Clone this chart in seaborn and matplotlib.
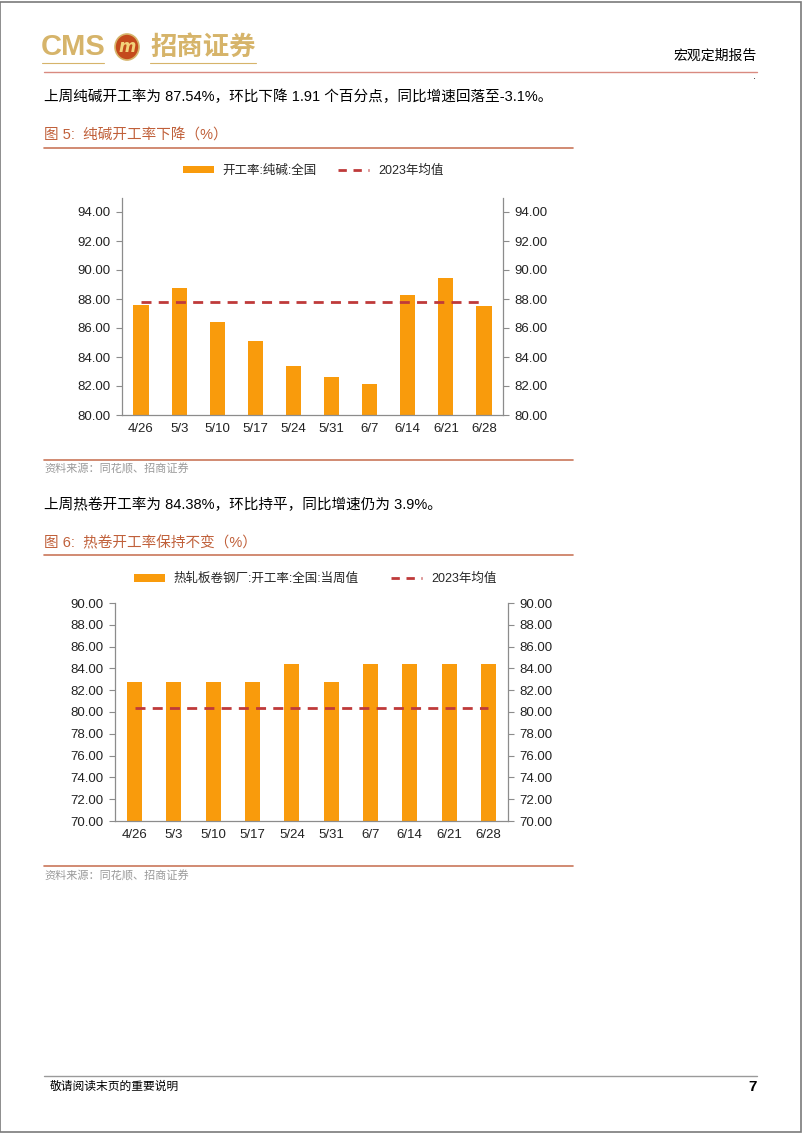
import numpy as np
import pandas as pd
import matplotlib
matplotlib.use("Agg")
import matplotlib.pyplot as plt
import matplotlib.patches as mpatches
from matplotlib.lines import Line2D
import seaborn as sns

# ---------------- data ----------------
dates = ["4/26", "5/3", "5/10", "5/17", "5/24", "5/31", "6/7", "6/14", "6/21", "6/28"]
soda_rate = [87.61, 88.78, 86.42, 85.11, 83.37, 82.59, 82.11, 88.27, 89.46, 87.54]
soda_mean_2023 = 87.79
hrc_rate = [82.77, 82.77, 82.77, 82.77, 84.38, 82.77, 84.38, 84.38, 84.38, 84.38]
hrc_mean_2023 = 80.40

soda_ticks = [80, 82, 84, 86, 88, 90, 92, 94]
hrc_ticks = [70, 72, 74, 76, 78, 80, 82, 84, 86, 88, 90]

soda_label = "开工率:纯碱:全国"
hrc_label = "热轧板卷钢厂:开工率:全国:当周值"
mean_label = "2023年均值"

# ---------------- style ----------------
sns.set_style("white")
FONT = ["Liberation Sans", "Noto Sans CJK SC"]
plt.rcParams["font.family"] = FONT
plt.rcParams["axes.unicode_minus"] = False

W, H = 802, 1133
fig = plt.figure(figsize=(W / 100, H / 100), dpi=100)

BAR = "#f99b0c"
DASH = "#bf3a3a"
AXC = "#8c8c8c"
TITLE_C = "#c0603a"
LINE_C = "#c9775a"
GOLD = "#d6b46a"


def fy(y):
    return 1 - y / H


def fx(x):
    return x / W


def hline(y, x0, x1, color, lw):
    fig.add_artist(Line2D([fx(x0), fx(x1)], [fy(y), fy(y)], color=color, lw=lw,
                          transform=fig.transFigure))


def text(x, y, s, size, color="black", ha="left", weight="normal"):
    fig.text(fx(x), fy(y), s, fontsize=size, color=color, ha=ha, va="center",
             fontweight=weight, family=FONT)


# page border
fig.add_artist(mpatches.Rectangle((0.0005, 0.0005), 0.998, 0.998, fill=False,
                                  edgecolor="#7a7a7a", lw=1.2, transform=fig.transFigure))

# ---------------- header ----------------
fig.text(fx(41), fy(47), "CMS", fontsize=21, color=GOLD, ha="left", va="center",
         family=["Liberation Sans Narrow", "Liberation Sans"], fontweight="bold")
fig.add_artist(mpatches.Ellipse((fx(127), fy(47)), 24 / W, 26 / H, facecolor="#c44a1c",
                                edgecolor=GOLD, lw=1.2, transform=fig.transFigure))
fig.text(fx(127), fy(47), "m", fontsize=12, color="#f2d27a", ha="center", va="center",
         fontweight="bold", style="italic", family=["DejaVu Sans"])
text(150, 47, "招商证券", 19, color=GOLD, weight="bold")
hline(63, 42, 104, GOLD, 0.8)
hline(63, 150, 256, GOLD, 0.8)
text(757, 56, "宏观定期报告", 10, ha="right")
hline(72, 44, 757, "#d98a80", 1.0)
text(756, 79, "·", 7, ha="right")

# ---------------- section 1 ----------------
text(44, 97, "上周纯碱开工率为 87.54%，环比下降 1.91 个百分点，同比增速回落至-3.1%。", 10.5)
text(44, 136, "图 5:  纯碱开工率下降（%）", 10.5, color=TITLE_C)
hline(148, 44, 573, LINE_C, 1.2)
hline(460, 44, 573, LINE_C, 1.2)
text(44, 469, "资料来源：同花顺、招商证券", 8, color="#9a9a9a")

# ---------------- section 2 ----------------
text(44, 505, "上周热卷开工率为 84.38%，环比持平，同比增速仍为 3.9%。", 10.5)
text(44, 543, "图 6:  热卷开工率保持不变（%）", 10.5, color=TITLE_C)
hline(555, 44, 573, LINE_C, 1.2)
hline(866, 44, 573, LINE_C, 1.2)
text(44, 876, "资料来源：同花顺、招商证券", 8, color="#9a9a9a")

# ---------------- footer ----------------
hline(1076, 44, 757, "#9a9a9a", 1.0)
text(50, 1087, "敬请阅读末页的重要说明", 8.5)
text(757, 1087, "7", 11, ha="right", weight="bold")


# ---------------- charts ----------------
def make_chart(rect, values, mean_val, ticks, ylim, width, bar_label, legend_y, legend_x,
               colsp):
    ax = fig.add_axes(rect)
    df = pd.DataFrame({"date": dates, "value": values})
    sns.barplot(data=df, x="date", y="value", color=BAR, saturation=1, width=width,
                ax=ax, edgecolor="none")
    pos = np.arange(len(dates))
    ax.plot(pos, [mean_val] * len(dates), color=DASH, lw=2.0, dashes=(3.6, 2.6))
    ax.set_xlim(-0.5, len(dates) - 0.5)
    ax.set_ylim(*ylim)
    ax.set_yticks(ticks)
    ax.set_yticklabels([f"{t:.2f}" for t in ticks])
    ax.set_xlabel("")
    ax.set_ylabel("")
    ax.set_xticks(pos)
    ax.set_xticklabels(dates)
    ax.set_xticks(np.arange(-0.5, len(dates), 1.0), minor=True)
    ax.tick_params(axis="x", which="major", length=0, pad=6, labelsize=9.5)
    ax.tick_params(axis="x", which="minor", length=4, color=AXC, direction="out", width=0.8)
    ax.tick_params(axis="y", length=4, color=AXC, direction="out", width=0.8,
                   labelsize=9.5, pad=4)
    for s in ["top", "right"]:
        ax.spines[s].set_visible(False)
    for s in ["left", "bottom"]:
        ax.spines[s].set_color(AXC)
        ax.spines[s].set_linewidth(0.9)
    ax.grid(False)
    ax2 = ax.twinx()
    ax2.set_ylim(*ylim)
    ax2.set_yticks(ticks)
    ax2.set_yticklabels([f"{t:.2f}" for t in ticks])
    ax2.tick_params(axis="y", length=4, color=AXC, direction="out", width=0.8,
                    labelsize=9.5, pad=4)
    for s in ["top", "left", "bottom"]:
        ax2.spines[s].set_visible(False)
    ax2.spines["right"].set_color(AXC)
    ax2.spines["right"].set_linewidth(0.9)
    ax2.grid(False)
    for lab in ax.get_yticklabels() + ax.get_xticklabels() + ax2.get_yticklabels():
        lab.set_color("#222222")

    handles = [mpatches.Patch(facecolor=BAR, edgecolor="none", label=bar_label),
               Line2D([0], [0], color=DASH, lw=2.0, dashes=(3.0, 2.4), label=mean_label)]
    fig.legend(handles=handles, loc="center", bbox_to_anchor=(fx(legend_x), fy(legend_y)),
               ncol=2, frameon=False, handlelength=2.5, handleheight=0.55,
               columnspacing=colsp, handletextpad=0.7, prop={"family": FONT, "size": 9})
    return ax


# chart 1
make_chart([fx(122), fy(415), (503 - 122) / W, (415 - 197.5) / H],
           soda_rate, soda_mean_2023, soda_ticks, (80, 95), 0.4, soda_label, 171, 313, 1.7)

# chart 2
make_chart([fx(115), fy(821), (508 - 115) / W, (821 - 603) / H],
           hrc_rate, hrc_mean_2023, hrc_ticks, (70, 90), 0.38, hrc_label, 579, 315, 2.6)

fig.savefig("out.png", dpi=100)
